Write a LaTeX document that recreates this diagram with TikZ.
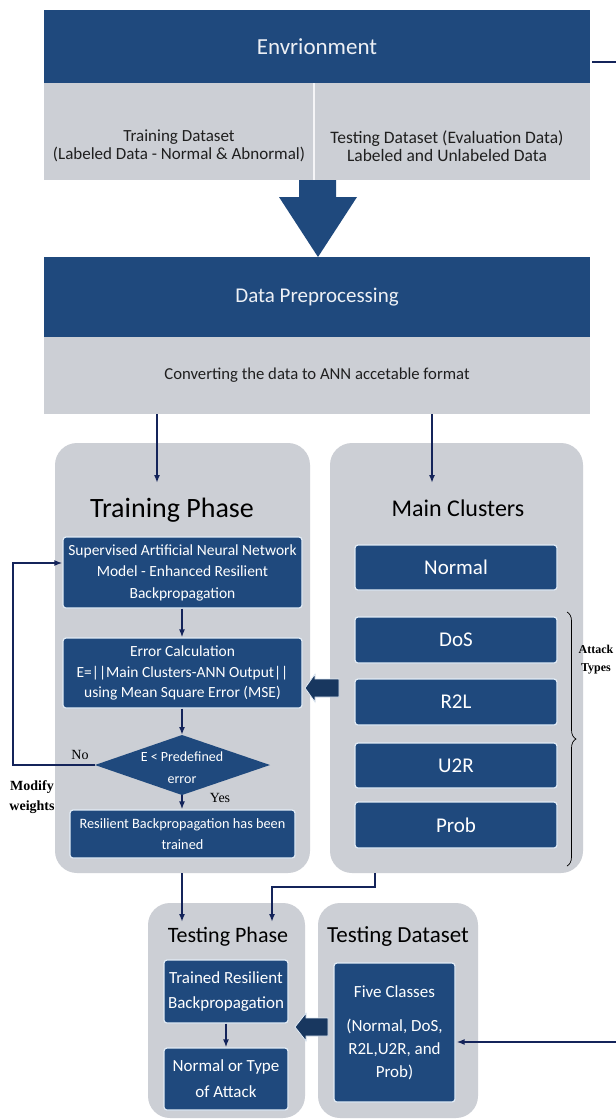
\documentclass[tikz,border=0pt]{standalone}
\usepackage{fontspec}
\setmainfont{Carlito}
\newfontfamily\timesf{Liberation Serif}
\usetikzlibrary{arrows.meta,decorations.pathreplacing,calc}
\definecolor{hblue}{RGB}{31,73,125}
\definecolor{bandgray}{RGB}{204,207,213}
\definecolor{linkc}{RGB}{20,36,90}
\definecolor{blockc}{RGB}{24,55,95}
\definecolor{edgec}{RGB}{226,236,246}
\newcommand\fs[2]{\fontsize{#1}{#2}\selectfont}
\begin{document}
\begin{tikzpicture}[x=1pt,y=-1pt,
  hdr/.style={fill=hblue, text=white!92!hblue, inner sep=0pt},
  band/.style={fill=bandgray, inner sep=0pt},
  panel/.style={fill=bandgray, rounded corners=22pt, inner sep=0pt},
  bbox/.style={fill=hblue, draw=edgec, line width=1.2pt, rounded corners=3pt,
               text=white, align=center, inner sep=0pt},
  ttl/.style={text=black, inner sep=0pt},
  txt/.style={text=black!88, inner sep=0pt, align=center},
  link/.style={draw=linkc, line width=1.6pt, -{Latex[length=8pt,width=6pt]}},
  note/.style={font=\timesf\bfseries\fs{14}{20}, align=center, inner sep=0pt}]
\useasboundingbox (0,0) rectangle (616,1120);
\fill[white] (0,0) rectangle (616,1120);

% ---- Environment block
\node[hdr, minimum width=546pt, minimum height=73pt, font=\fs{23}{26}] (envhead) at (317,46.5) {Envrionment};
\node[band, minimum width=546pt, minimum height=97pt] (envband) at (317,131.5) {};
\draw[white!80!bandgray, line width=1.5pt] (314,83) -- (314,180);
\node[txt, font=\fs{17}{18.5}] (trainds) at (179,146) {Training Dataset\\(Labeled Data - Normal \& Abnormal)};
\node[txt, font=\fs{17.5}{18.5}] (testds) at (447,146) {Testing Dataset (Evaluation Data)\\Labeled and Unlabeled Data};

% ---- big down arrow
\fill[hblue] (299,180) -- (336,180) -- (336,197) -- (357,197) -- (318,257)
  -- (279,197) -- (299,197) -- cycle;

% ---- Data preprocessing block
\node[hdr, minimum width=546pt, minimum height=80pt, font=\fs{21}{24}] (dphead) at (317,297) {Data Preprocessing};
\node[band, minimum width=546pt, minimum height=77pt, font=\fs{16.7}{18}, text=black!88] (dpband) at (317,375.5) {Converting the data to ANN accetable format};

% ---- panels
\node[panel, minimum width=255pt, minimum height=430pt] (trainp) at (182.5,658) {};
\node[panel, minimum width=253pt, minimum height=430pt] (mainp) at (456.5,658) {};
\node[panel, minimum width=157pt, minimum height=215pt] (testp) at (226.5,1010.5) {};
\node[panel, minimum width=160pt, minimum height=215pt] (tdatap) at (398,1010.5) {};

\node[ttl, font=\fs{28}{30}] (trainttl) at (172,510) {Training Phase};
\node[ttl, font=\fs{24}{28}] (mainttl) at (458,508) {Main Clusters};
\node[ttl, font=\fs{22}{24}] (testttl) at (228,937) {Testing Phase};
\node[ttl, font=\fs{23}{24}] (tdatattl) at (398,937) {Testing Dataset};

% ---- training phase boxes
\node[bbox, minimum width=239pt, minimum height=71pt, font=\fs{15.5}{21.5}] (sup) at (182.5,572.5)
  {Supervised Artificial Neural Network\\Model - Enhanced Resilient\\Backpropagation};
\node[bbox, minimum width=239pt, minimum height=70pt, font=\fs{15.5}{20.5}] (err) at (182.5,673)
  {Error Calculation\\E=||Main Clusters-ANN Output||\\using Mean Square Error (MSE)};
\coordinate (diaT) at (182,735);
\coordinate (diaB) at (182,795);
\coordinate (diaL) at (95,765);
\coordinate (diaR) at (270,765);
\fill[hblue] (diaT) -- (diaR) -- (diaB) -- (diaL) -- cycle;
\node[text=white, align=center, inner sep=0pt, font=\fs{14}{22}] (dia) at (182,768) {E < Predefined\\error};
\node[bbox, minimum width=225pt, minimum height=48pt, font=\fs{14.3}{21}] (res) at (182.5,834)
  {Resilient Backpropagation has been\\trained};

% ---- main clusters boxes
\begin{scope}[every node/.style={bbox, minimum width=202pt, font=\fs{21}{22}}]
\node[minimum height=45pt] (cnormal) at (456,567.5) {Normal};
\node[minimum height=46pt] (cdos) at (456,640) {DoS};
\node[minimum height=46pt] (cr2l) at (456,702) {R2L};
\node[minimum height=45pt] (cu2r) at (456,765.5) {U2R};
\node[minimum height=46pt] (cprob) at (456,825) {Prob};
\end{scope}
\draw[black, line width=0.7pt, decorate, decoration={brace, amplitude=9pt}] (567,612) -- (567,866);
\node[note, font=\timesf\bfseries\fs{12}{18}] (attack) at (596,660) {Attack\\Types};

% ---- testing boxes
\node[bbox, minimum width=124pt, minimum height=63pt, font=\fs{17}{25}] (trained) at (226,991.5)
  {Trained Resilient\\Backpropagation};
\node[bbox, minimum width=124pt, minimum height=62pt, font=\fs{17}{26}] (outcome) at (226,1079)
  {Normal or Type\\of Attack};
\node[bbox, minimum width=121pt, minimum height=139pt, font=\fs{17}{23}] (five) at (394.5,1032.5)
  {Five Classes\\[11pt](Normal, DoS,\\R2L,U2R, and\\Prob)};

% ---- side labels
\node[note] (modify) at (32,797) {Modify\\weights};
\node[font=\timesf\fs{14}{16}, inner sep=0pt] (nolbl) at (80,755) {No};
\node[font=\timesf\fs{14}{16}, inner sep=0pt] (yeslbl) at (220,798) {Yes};

% ---- connectors
\coordinate (tin) at (157,483);
\coordinate (min) at (432,483);
\draw[link] (dpband.south -| tin) -- (tin);
\draw[link] (dpband.south -| min) -- (min);
\draw[link] (sup.south -| diaT) -- (err.north -| diaT);
\draw[link] (err.south -| diaT) -- (diaT);
\draw[link] (diaB) -- (res.north -| diaB);
\coordinate (fb) at (13,563);
\draw[link, line width=2pt] (diaL) -| (fb) -- (sup.west |- fb);
\draw[link] (trained.south) -- (outcome.north);

\coordinate (tp1) at (182,922);
\coordinate (tp2) at (272,922);
\coordinate (mcb) at (375,887);
\draw[link] (trainp.south -| tp1) -- (tp1);
\draw[link] (mainp.south -| mcb) -- (mcb) -| (tp2);

\coordinate (far1) at (640,62);
\coordinate (far2) at (640,1042);
\draw[link] (envhead.east |- far1) ++(2,0) -- (far1) -- (far2) -- ($(five.east |- far2)+(1,0)$);

% ---- block arrows
\fill[blockc, draw=edgec, line width=0.8pt] (305,688) -- (315,674) -- (315,679) -- (339,679)
  -- (339,697) -- (315,697) -- (315,702) -- cycle;
\fill[blockc, draw=edgec, line width=0.8pt] (295,1027) -- (306,1013) -- (306,1018) -- (328,1018)
  -- (328,1036) -- (306,1036) -- (306,1041) -- cycle;
\end{tikzpicture}
\end{document}
